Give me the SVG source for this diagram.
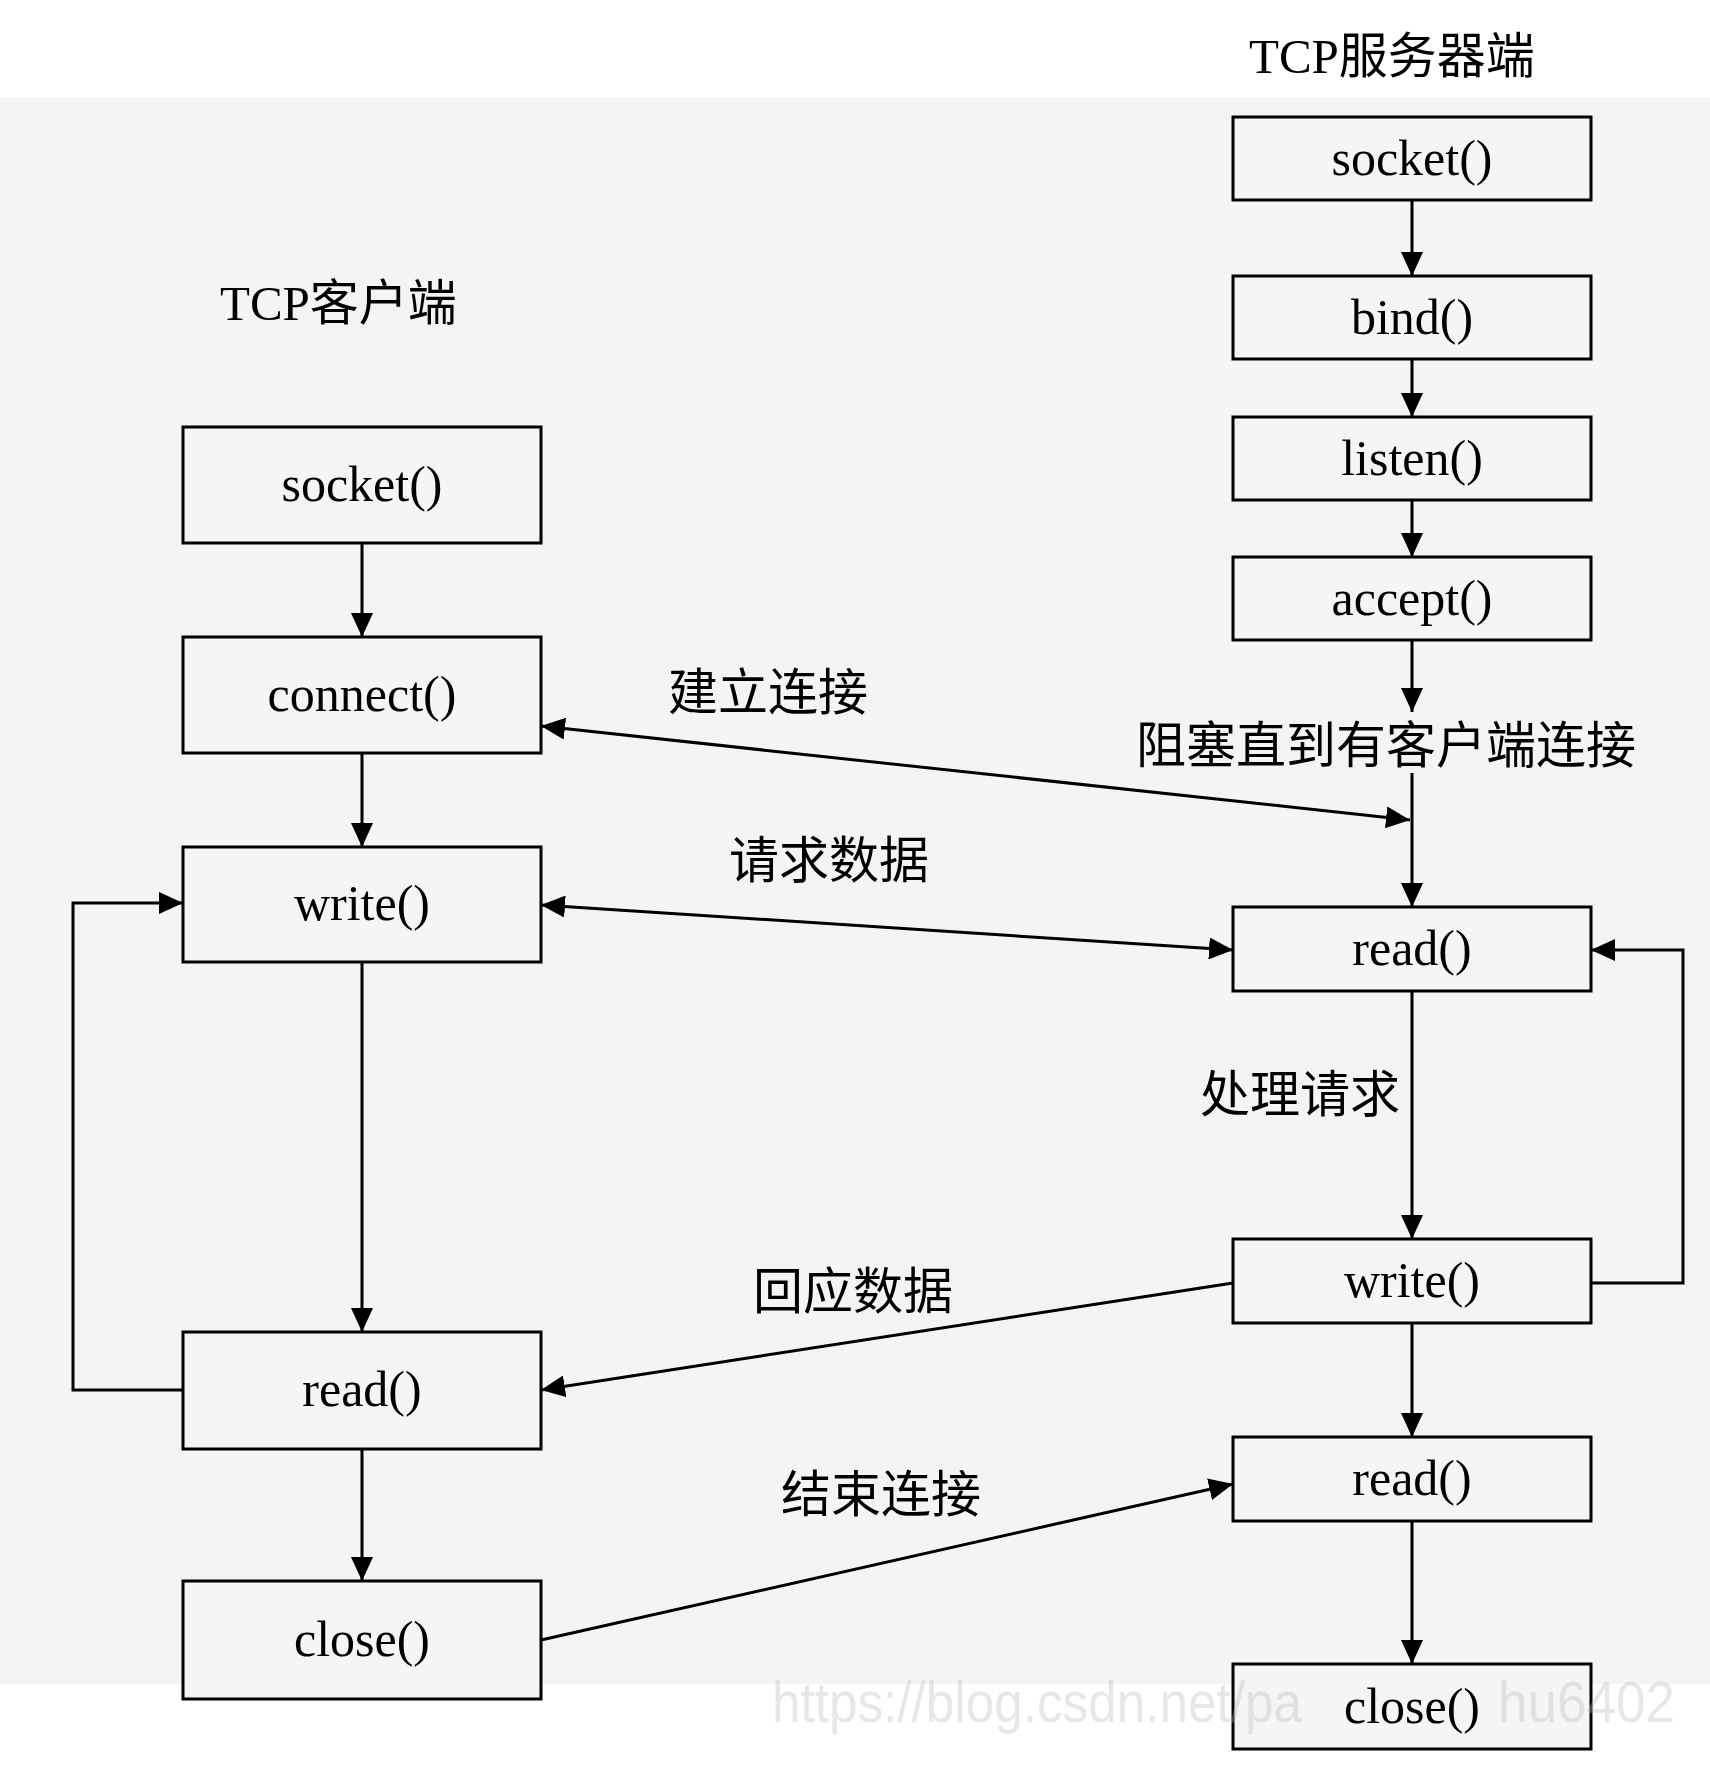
<svg xmlns="http://www.w3.org/2000/svg" width="1710" height="1768" viewBox="0 0 1710 1768">
<style>
.box{fill:#f5f5f5;stroke:#000;stroke-width:3}
.fn{font-family:"Liberation Serif",serif;font-size:50px;fill:#000;text-anchor:middle}
.lbl{font-family:"Liberation Serif","Noto Sans CJK SC",sans-serif;font-size:50px;fill:#000}
.ttl{font-family:"Liberation Serif","Noto Sans CJK SC",sans-serif;font-size:49px;fill:#000}
.ln{fill:none;stroke:#000;stroke-width:3}
.wm{font-family:"Liberation Sans",sans-serif;font-size:58px;fill:#bbbbbb;fill-opacity:0.35}
</style>
<defs>
<marker id="ah" viewBox="0 0 24 22" refX="24" refY="11" markerWidth="24" markerHeight="22" markerUnits="userSpaceOnUse" orient="auto-start-reverse">
<path d="M0,0 L24,11 L0,22 z" fill="#000"/>
</marker>
</defs>
<rect x="0" y="0" width="1710" height="1768" fill="#ffffff"/>
<rect x="0" y="98" width="1710" height="1586" fill="#f4f4f4"/>

<text class="ttl" x="1249" y="73">TCP服务器端</text>
<text class="ttl" x="220" y="320">TCP客户端</text>

<g id="connectors">
<!-- client chain -->
<line class="ln" x1="362" y1="543" x2="362" y2="637" marker-end="url(#ah)"/>
<line class="ln" x1="362" y1="753" x2="362" y2="847" marker-end="url(#ah)"/>
<line class="ln" x1="362" y1="962" x2="362" y2="1332" marker-end="url(#ah)"/>
<line class="ln" x1="362" y1="1449" x2="362" y2="1581" marker-end="url(#ah)"/>
<polyline class="ln" points="183,1390 73,1390 73,903 183,903" marker-end="url(#ah)"/>
<!-- server chain -->
<line class="ln" x1="1412" y1="200" x2="1412" y2="276" marker-end="url(#ah)"/>
<line class="ln" x1="1412" y1="359" x2="1412" y2="417" marker-end="url(#ah)"/>
<line class="ln" x1="1412" y1="500" x2="1412" y2="557" marker-end="url(#ah)"/>
<line class="ln" x1="1412" y1="640" x2="1412" y2="712" marker-end="url(#ah)"/>
<line class="ln" x1="1412" y1="773" x2="1412" y2="907" marker-end="url(#ah)"/>
<line class="ln" x1="1412" y1="991" x2="1412" y2="1239" marker-end="url(#ah)"/>
<line class="ln" x1="1412" y1="1323" x2="1412" y2="1437" marker-end="url(#ah)"/>
<line class="ln" x1="1412" y1="1521" x2="1412" y2="1664" marker-end="url(#ah)"/>
<polyline class="ln" points="1591,1283 1683,1283 1683,950 1591,950" marker-end="url(#ah)"/>
<!-- cross connectors -->
<line class="ln" x1="541" y1="726" x2="1410" y2="820" marker-start="url(#ah)" marker-end="url(#ah)"/>
<line class="ln" x1="541" y1="905" x2="1233" y2="950" marker-start="url(#ah)" marker-end="url(#ah)"/>
<line class="ln" x1="1233" y1="1283" x2="541" y2="1390" marker-end="url(#ah)"/>
<line class="ln" x1="541" y1="1640" x2="1233" y2="1484" marker-end="url(#ah)"/>
</g>

<g id="labels">
<text class="lbl" x="668" y="710">建立连接</text>
<text class="lbl" x="1136" y="763">阻塞直到有客户端连接</text>
<text class="lbl" x="729" y="878">请求数据</text>
<text class="lbl" x="1200" y="1112">处理请求</text>
<text class="lbl" x="753" y="1309">回应数据</text>
<text class="lbl" x="781" y="1512">结束连接</text>
</g>

<g id="c-socket"><rect class="box" x="183" y="427" width="358" height="116"/><text class="fn" x="362" y="501">socket()</text></g>
<g id="c-connect"><rect class="box" x="183" y="637" width="358" height="116"/><text class="fn" x="362" y="711">connect()</text></g>
<g id="c-write"><rect class="box" x="183" y="847" width="358" height="115"/><text class="fn" x="362" y="920">write()</text></g>
<g id="c-read"><rect class="box" x="183" y="1332" width="358" height="117"/><text class="fn" x="362" y="1406">read()</text></g>
<g id="c-close"><rect class="box" x="183" y="1581" width="358" height="118"/><text class="fn" x="362" y="1656">close()</text></g>

<g id="s-socket"><rect class="box" x="1233" y="117" width="358" height="83"/><text class="fn" x="1412" y="175">socket()</text></g>
<g id="s-bind"><rect class="box" x="1233" y="276" width="358" height="83"/><text class="fn" x="1412" y="334">bind()</text></g>
<g id="s-listen"><rect class="box" x="1233" y="417" width="358" height="83"/><text class="fn" x="1412" y="475">listen()</text></g>
<g id="s-accept"><rect class="box" x="1233" y="557" width="358" height="83"/><text class="fn" x="1412" y="615">accept()</text></g>
<g id="s-read"><rect class="box" x="1233" y="907" width="358" height="84"/><text class="fn" x="1412" y="965">read()</text></g>
<g id="s-write"><rect class="box" x="1233" y="1239" width="358" height="84"/><text class="fn" x="1412" y="1297">write()</text></g>
<g id="s-read2"><rect class="box" x="1233" y="1437" width="358" height="84"/><text class="fn" x="1412" y="1495">read()</text></g>
<g id="s-close"><rect class="box" x="1233" y="1664" width="358" height="85"/><text class="fn" x="1412" y="1723">close()</text></g>

<g id="watermark">
<text class="wm" x="772" y="1722" textLength="530" lengthAdjust="spacingAndGlyphs">https://blog.csdn.net/pa</text>
<text class="wm" x="1498" y="1722" textLength="177" lengthAdjust="spacingAndGlyphs">hu6402</text>
</g>
</svg>
